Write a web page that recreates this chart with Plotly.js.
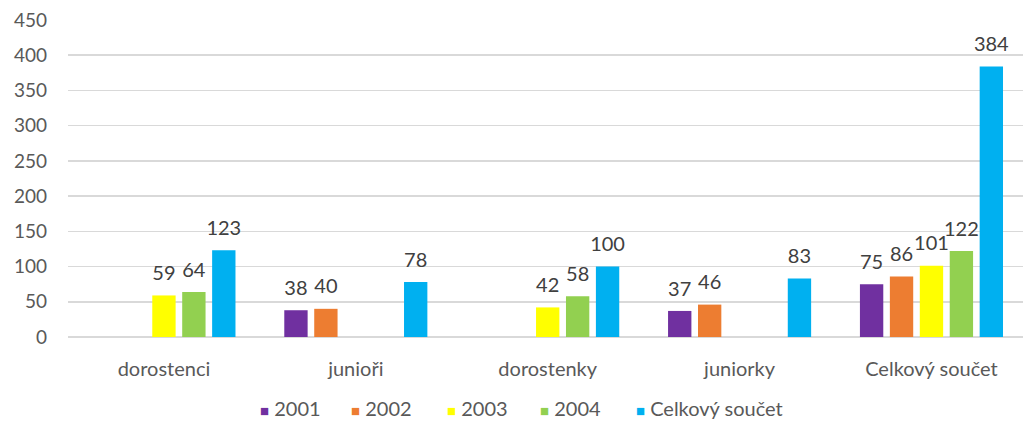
<!DOCTYPE html>
<html><head><meta charset="utf-8">
<script src="https://cdn.plot.ly/plotly-3.0.1.min.js"></script>
<style>html,body{margin:0;padding:0;background:#fff}#chart{width:1023px;height:423px}</style>
</head><body><div id="chart"></div>
<script>
const categories = ["dorostenci", "junioři", "dorostenky", "juniorky", "Celkový součet"];
const seriesNames = ["2001", "2002", "2003", "2004", "Celkový součet"];
const v2001 = [null, 38, null, 37, 75];
const v2002 = [null, 40, null, 46, 86];
const v2003 = [59, null, 42, null, 101];
const v2004 = [64, null, 58, null, 122];
const vTotal = [123, 78, 100, 83, 384];
const colors = ["#7030A0", "#ED7D31", "#FFFF00", "#92D050", "#00B0F0"];
const yTicks = [0, 50, 100, 150, 200, 250, 300, 350, 400, 450];

const values = [v2001, v2002, v2003, v2004, vTotal];
const font = "Lato, 'Open Sans', sans-serif";

const barTraces = values.map((vals, i) => ({
  type: "bar", name: seriesNames[i], x: categories, y: vals,
  offsetgroup: String(i),
  marker: {color: colors[i]},
  showlegend: false, hoverinfo: "x+y"
}));
// data labels, grouped the same way as the bars
const labelTraces = values.map((vals, i) => ({
  type: "scatter", mode: "markers+text", name: seriesNames[i] + " label",
  x: categories, y: vals, offsetgroup: String(i),
  marker: {size: 15, opacity: 0, color: colors[i]},
  text: vals.map(v => v === null ? "" : String(v)),
  textposition: "top center", cliponaxis: false,
  textfont: {size: 20, color: "#404040", family: font},
  showlegend: false, hoverinfo: "skip"
}));

// legend entries: coloured square + series name (left edges in px)
const plotLeft = 68, plotWidth = 1023 - 68;
const legendLeftPx = [258, 349, 445, 538, 634];
const legendAnnotations = seriesNames.map((n, i) => ({
  xref: "paper", yref: "paper",
  x: (legendLeftPx[i] - plotLeft) / plotWidth, y: -0.225,
  xanchor: "left", yanchor: "middle", showarrow: false,
  text: `<span style="color:${colors[i]};font-size:15px">■</span> ${n}`,
  font: {size: 20, color: "#595959", family: font}
}));

const layout = {
  width: 1023, height: 423,
  margin: {l: plotLeft, r: 0, t: 20, b: 86},
  barmode: "group", bargap: 0.22, bargroupgap: 0.22,
  scattermode: "group", scattergap: 0.22,
  paper_bgcolor: "#fff", plot_bgcolor: "#fff",
  font: {family: font, color: "#595959", size: 19},
  xaxis: {type: "category", range: [-0.5, 4.477], showgrid: false, showline: false, ticks: "",
          tickfont: {size: 20, color: "#595959"}, ticklabelstandoff: 18},
  yaxis: {range: [0, 450], tickvals: yTicks, ticktext: yTicks.map(String),
          showgrid: true, gridcolor: "#d9d9d9", gridwidth: 1.5,
          zeroline: true, zerolinecolor: "#d9d9d9", zerolinewidth: 1.5,
          showline: false, ticks: "", tickfont: {size: 19, color: "#595959"},
          ticklabelstandoff: 20},
  showlegend: false,
  annotations: legendAnnotations
};
Plotly.newPlot("chart", barTraces.concat(labelTraces), layout, {displayModeBar: false, staticPlot: true});
</script></body></html>
